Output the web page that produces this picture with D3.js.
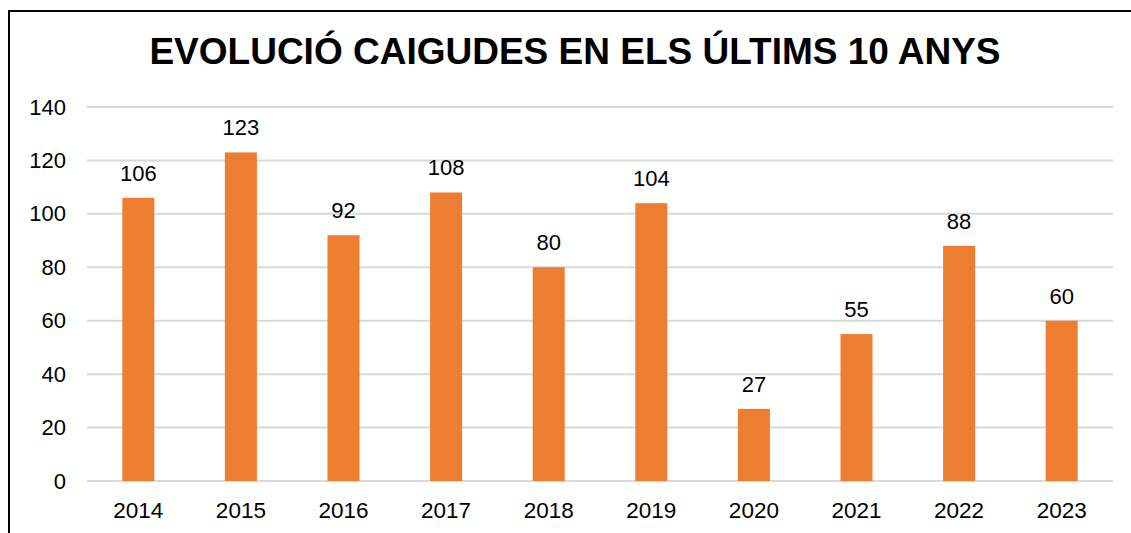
<!DOCTYPE html>
<html>
<head>
<meta charset="utf-8">
<script src="https://cdn.jsdelivr.net/npm/d3@7"></script>
<style>
  body { margin: 0; background: #fff; }
  svg { display: block; font-family: "Liberation Sans", Arial, sans-serif; }
</style>
</head>
<body>
<div id="chart"></div>
<script>
// data
var years = ["2014", "2015", "2016", "2017", "2018", "2019", "2020", "2021", "2022", "2023"];
var caigudes = [106, 123, 92, 108, 80, 104, 27, 55, 88, 60];
var yTicks = [0, 20, 40, 60, 80, 100, 120, 140];
var title = "EVOLUCIÓ CAIGUDES EN ELS ÚLTIMS 10 ANYS";

var svgWidth = 1131;
var svgHeight = 533;

var svg = d3.select("#chart").append("svg")
  .attr("width", svgWidth)
  .attr("height", svgHeight);

// frame (only top and left edges are visible in the crop)
svg.append("path")
  .attr("d", "M9,533 L9,11 L1131,11")
  .attr("fill", "none")
  .attr("stroke", "#000")
  .attr("stroke-width", 2);

svg.append("text")
  .attr("x", 575)
  .attr("y", 64)
  .attr("text-anchor", "middle")
  .attr("font-size", "37px")
  .attr("font-weight", "bold")
  .attr("fill", "#000")
  .text(title);

// plot area
var plotLeft = 87, plotRight = 1113, plotTop = 107, plotBottom = 481;

var yScale = d3.scaleLinear()
  .domain([0, 140])
  .range([plotBottom, plotTop]);

var pad = 1 - 32 / ((plotRight - plotLeft) / years.length);
var xScale = d3.scaleBand()
  .domain(years)
  .range([plotLeft, plotRight])
  .paddingInner(pad)
  .paddingOuter(pad / 2);

// gridlines
svg.append("g")
  .selectAll("line")
  .data(yTicks)
  .enter().append("line")
  .attr("x1", plotLeft)
  .attr("x2", plotRight)
  .attr("y1", d => yScale(d))
  .attr("y2", d => yScale(d))
  .attr("stroke", "#d9d9d9")
  .attr("stroke-width", 2);

// y axis labels
var yAxis = d3.axisLeft(yScale).tickValues(yTicks).tickSize(0).tickPadding(21);
var yG = svg.append("g")
  .attr("transform", `translate(${plotLeft}, 0)`)
  .call(yAxis);
yG.select(".domain").remove();
yG.selectAll("text")
  .attr("font-size", "22px")
  .attr("font-family", "Liberation Sans, Arial, sans-serif")
  .attr("fill", "#000");

// x axis labels
var xAxis = d3.axisBottom(xScale).tickSize(0).tickPadding(0);
var xG = svg.append("g")
  .attr("transform", `translate(0, ${plotBottom})`)
  .call(xAxis);
xG.select(".domain").remove();
xG.selectAll("text")
  .attr("dy", null)
  .attr("y", 37)
  .attr("font-size", "22.5px")
  .attr("font-family", "Liberation Sans, Arial, sans-serif")
  .attr("fill", "#000");

var rows = years.map((y, i) => ({ year: y, value: caigudes[i] }));

// bars
svg.append("g")
  .selectAll("rect")
  .data(rows)
  .enter().append("rect")
  .attr("x", d => xScale(d.year))
  .attr("y", d => yScale(d.value))
  .attr("width", xScale.bandwidth())
  .attr("height", d => yScale(0) - yScale(d.value))
  .attr("fill", "#ed7d31");

// value labels
svg.append("g")
  .selectAll("text")
  .data(rows)
  .enter().append("text")
  .attr("x", d => xScale(d.year) + xScale.bandwidth() / 2)
  .attr("y", d => yScale(d.value) - 17)
  .attr("text-anchor", "middle")
  .attr("font-size", "22px")
  .attr("fill", "#000")
  .text(d => d.value);
</script>
</body>
</html>
